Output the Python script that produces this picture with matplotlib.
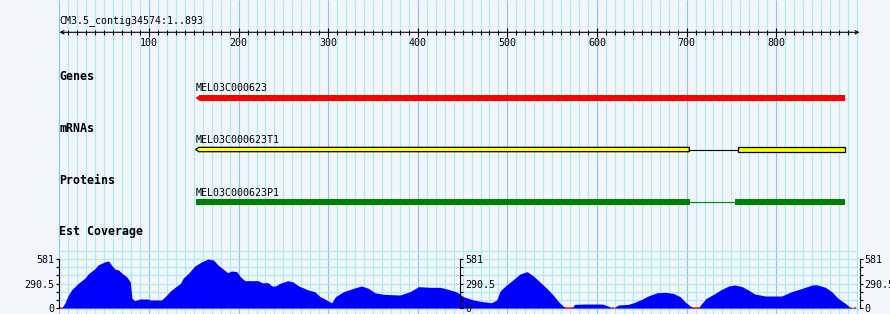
import matplotlib.pyplot as plt
from matplotlib.ticker import FixedLocator, FuncFormatter
from matplotlib.patches import Polygon, Rectangle

plt.rcParams['font.family'] = ['DejaVu Sans Mono']

contig_label = "CM3.5_contig34574:1..893"
contig_len = 893
ruler_labels = [100, 200, 300, 400, 500, 600, 700, 800]

gene_name = "MEL03C000623"
gene_span = (152, 877)

mrna_name = "MEL03C000623T1"
mrna_exons = [(152, 703), (757, 877)]

protein_name = "MEL03C000623P1"
protein_exons = [(152, 704), (754, 877)]

cov_max = 581
cov_pos = [1, 3, 6, 10, 14, 21, 29, 32, 40, 43, 51, 55, 58, 62, 66, 70, 75, 79, 81, 84,
           90, 99, 101, 114, 118, 123, 129, 135, 138, 144, 151, 159, 166, 172, 177, 183,
           188, 192, 198, 202, 207, 222, 226, 233, 237, 241, 246, 255, 261, 267, 278, 285,
           291, 295, 298, 304, 308, 317, 328, 337, 345, 352, 362, 380, 391, 401, 414, 425,
           434, 443, 451, 462, 473, 482, 488, 492, 499, 507, 514, 522, 529, 536, 544, 551,
           557, 562, 566, 572, 575, 585, 606, 611, 618, 624, 635, 642, 650, 657, 667, 676,
           685, 693, 698, 704, 709, 713, 717, 722, 732, 739, 747, 754, 762, 769, 776, 788,
           806, 817, 829, 840, 845, 855, 862, 869, 877, 882, 888]
cov_val = [0, 10, 56, 154, 221, 292, 360, 403, 470, 510, 549, 557, 510, 462, 450, 411, 371, 312, 115, 87,
           107, 107, 95, 95, 134, 193, 245, 292, 352, 411, 498, 549, 581, 569, 510, 459,
           419, 439, 431, 371, 324, 324, 300, 300, 261, 261, 292, 324, 308, 261, 213, 193,
           134, 115, 95, 63, 134, 193, 233, 261, 233, 181, 162, 154, 193, 253, 245, 245,
           221, 193, 134, 95, 75, 63, 95, 205, 273, 340, 403, 431, 380, 312, 233, 154,
           75, 24, 0, 0, 43, 47, 47, 28, 0, 36, 43, 67, 103, 142, 181, 186,
           174, 134, 75, 24, 0, 0, 56, 115, 174, 221, 261, 273, 253, 213, 166, 142,
           142, 193, 233, 273, 276, 245, 193, 115, 56, 12, 0]

BG = '#f2f5fa'
MINOR = '#a6eef2'
MAJOR = '#84c8f0'
XLIM = (-66.3, 927.0)

fig = plt.figure(figsize=(8.9, 3.14), dpi=100, facecolor=BG)
ax = fig.add_axes([0, 0, 1, 1])
ax.set_facecolor(BG)
ax.set_xlim(*XLIM)
ax.set_ylim(314, 0)
ax.axis('off')

# grid
minor = [p for p in range(10, 900, 10) if p % 100]
major = list(range(0, 900, 100))
ax.vlines(minor, 0, 314, color=MINOR, lw=0.8, zorder=0)
ax.vlines(major, 0, 314, color=MAJOR, lw=0.8, zorder=0)

# ruler
ax.text(0, 20.5, contig_label, fontsize=7.2, va='center', ha='left')
ax.annotate('', xy=(0, 32.3), xytext=(contig_len, 32.3),
            arrowprops=dict(arrowstyle='<->', lw=0.8, mutation_scale=6, shrinkA=0, shrinkB=0))
ax.vlines([p for p in range(10, 890, 10) if p % 100], 30, 34.8, color='black', lw=0.8)
ax.vlines(ruler_labels, 28, 36.5, color='black', lw=0.8)
for p in ruler_labels:
    ax.text(p, 42.7, str(p), fontsize=7.2, ha='center', va='center')

# track labels
for y, t in [(76, 'Genes'), (128.3, 'mRNAs'), (180, 'Proteins'), (231.7, 'Est Coverage')]:
    ax.text(0, y, t, fontsize=8.4, fontweight='bold', ha='left', va='center')

# gene
g0, g1 = gene_span
ax.add_patch(Polygon([(g0, 98), (g0 + 4.5, 95), (g1, 95), (g1, 101), (g0 + 4.5, 101)],
                     closed=True, fc='#ff0000', ec='none'))
ax.text(g0, 87.7, gene_name, fontsize=7.2, ha='left', va='center')

# mRNA
ax.text(mrna_exons[0][0], 140, mrna_name, fontsize=7.2, ha='left', va='center')
ax.plot([mrna_exons[0][1], mrna_exons[1][0]], [149.5, 149.5], color='black', lw=0.8)
for i, (s, e) in enumerate(mrna_exons):
    if i == 0:
        pts = [(s, 149.5), (s + 3.5, 147.3), (e, 147.3), (e, 151.7), (s + 3.5, 151.7)]
    else:
        pts = [(s, 147.3), (e, 147.3), (e, 151.7), (s, 151.7)]
    ax.add_patch(Polygon(pts, closed=True, fc='#ffff00', ec='black', lw=0.9))

# protein
ax.text(protein_exons[0][0], 192.7, protein_name, fontsize=7.2, ha='left', va='center')
ax.plot([protein_exons[0][1], protein_exons[1][0]], [201.5, 201.5], color='#008000', lw=0.8)
for s, e in protein_exons:
    ax.add_patch(Rectangle((s, 199.3), e - s, 5.8, fc='#008000', ec='none'))

# coverage
cov = fig.add_axes([0, 6 / 314, 1, 49 / 314])
cov.patch.set_alpha(0)
cov.set_xlim(*XLIM)
cov.set_ylim(0, cov_max)
step = cov_max / 6
for k in range(0, 8):
    cov.hlines(k * step, 0, 890, color=MINOR, lw=0.8, zorder=0, clip_on=False)
cov.hlines(0, 0, 890, color=MAJOR, lw=1.0, zorder=0.5, clip_on=False)
cov.fill_between(cov_pos, 0, cov_val, color='#0000ff', lw=0, zorder=1)

# zero-coverage spots marked in red on the baseline
for i in range(len(cov_val)):
    if cov_val[i] == 0:
        a0 = cov_pos[i] - 1.5
        a1 = cov_pos[i + 1] if i + 1 < len(cov_val) and cov_val[i + 1] == 0 else cov_pos[i] + 1.5
        cov.plot([a0, a1], [0, 0], color='#ff2020', lw=1.2, zorder=2, solid_capstyle='butt',
                 clip_on=False)

fmt = FuncFormatter(lambda v, _: f"{v:g}")
mid = cov.twinx()
rgt = cov.twinx()
for a, side, xpos in [(cov, 'left', 0), (mid, 'right', 447), (rgt, 'right', contig_len)]:
    a.set_ylim(0, cov_max)
    a.set_xlim(*XLIM)
    for s in a.spines.values():
        s.set_visible(False)
    a.spines[side].set_visible(True)
    a.spines[side].set_position(('data', xpos))
    a.spines[side].set_linewidth(0.8)
    a.spines[side].set_zorder(3)
    a.set_xticks([])
    a.yaxis.set_ticks_position(side)
    a.yaxis.set_major_locator(FixedLocator([0, cov_max / 2, cov_max]))
    a.yaxis.set_minor_locator(FixedLocator([k * step for k in (1, 2, 4, 5)]))
    a.yaxis.set_major_formatter(fmt)
    a.tick_params(axis='y', which='both', direction='out', length=2.4, width=0.8,
                  labelsize=7.2, pad=1.2)

fig.savefig('out.png', dpi=100, facecolor=BG)
